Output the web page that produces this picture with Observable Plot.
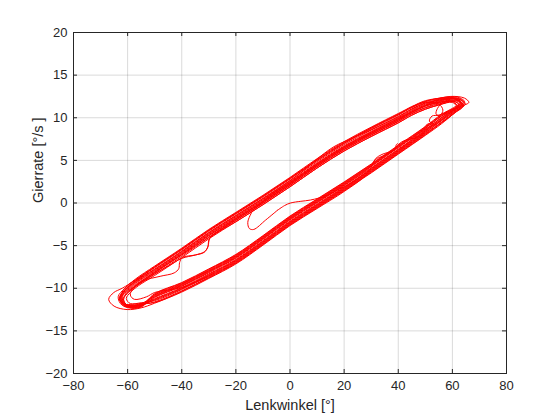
<!DOCTYPE html>
<html><head><meta charset="utf-8">
<script src="https://cdn.jsdelivr.net/npm/d3@7"></script>
<script src="https://cdn.jsdelivr.net/npm/@observablehq/plot@0.6"></script>
<style>body{margin:0;background:#fff}</style>
</head><body><div id="chart"></div>
<script>
// Tick values
const xTicks = [-80, -60, -40, -20, 0, 20, 40, 60, 80];
const yTicks = [-20, -15, -10, -5, 0, 5, 10, 15, 20];

// Trajectory: [Lenkwinkel °, Gierrate °/s], in order
const anfang = [[-4.7,-0.87],[-2,-0.3],[0.2,0.0],[4,0.2],[7.6,0.35],[13.8,0.9],[18,1.6],[22.4,2.3]];
const zyklus1 = [[30,4.05],[40,6.25],[50,8.45],[56,9.8],[61,10.9],[64.5,11.7],[62,12.2],[57,12.1],[50,11.5],[45,10.8],[40,9.9],[30,8.3],[20,6.6],[10,4.6],[0,2.4],[-10,0.3],[-20,-1.7],[-30,-3.7],[-40,-5.9],[-50,-8.0],[-57,-9.4],[-61,-10.4],[-63,-11.3],[-61,-12.0],[-56,-12.0]];
const zyklus2 = [[-50,-10.85],[-40,-9.55],[-30,-7.95],[-20,-6.25],[-10,-4.05],[0,-1.75],[10,0.25],[20,2.25],[30,4.35],[40,6.55],[50,8.75],[56,10.2],[61,11.2],[64.5,11.9],[62,12.4],[57,12.4],[50,11.9],[45,11.3],[40,10.4],[30,8.8],[20,7.0],[10,5.0],[0,2.9],[-10,0.8],[-20,-1.2],[-30,-3.2],[-40,-5.4],[-50,-7.5],[-56,-8.8],[-60,-9.7],[-62.5,-10.8],[-61.5,-11.8],[-56,-11.8]];
const zyklus3 = [[-50,-11.67],[-40,-10.37],[-30,-8.77],[-20,-7.07],[-10,-4.87],[0,-2.57],[10,-0.57],[20,1.43],[30,3.53],[40,5.73],[50,7.93],[56,9.3],[60.5,10.5],[63,11.3],[61,11.9],[56,11.8],[50,11.2],[45,10.5],[40,9.6],[30,8.0],[20,6.3],[10,4.3],[0,2.1],[-10,0.0],[-20,-2.0],[-26,-3.2],[-29.6,-4.1],[-30.3,-5.1],[-31.5,-5.7],[-35,-6.1],[-40,-6.5],[-45,-7.4],[-50,-8.3],[-57,-9.8],[-60.5,-10.7],[-62,-11.4],[-60,-12.1],[-55,-12.1]];
const zyklus4 = [[-50,-11.08],[-40,-9.78],[-30,-8.18],[-20,-6.48],[-10,-4.28],[0,-1.98],[10,0.02],[20,2.02],[30,4.12],[40,6.32],[50,8.52],[56,10.0],[61,11.0],[64,11.8],[61.5,12.3],[56,12.3],[50,11.9],[45,11.2],[40,10.4],[30,8.8],[20,7.1],[10,5.1],[0,2.9],[-10,0.8],[-20,-1.2],[-30,-3.2],[-40,-5.4],[-50,-7.5],[-57,-9.0],[-62,-10.0],[-65.1,-10.5],[-67,-11.3],[-65,-12.1],[-60.2,-12.5],[-55,-12.3]];
const zyklus5 = [[-50,-11.75],[-40,-10.45],[-30,-8.85],[-20,-7.15],[-10,-4.95],[0,-2.65],[10,-0.65],[20,1.35],[28,3.25],[30.3,4.4],[31.6,5.2],[34,5.7],[38.4,6.2],[40.2,6.9],[42.1,7.3],[45.8,7.6],[48.2,7.9],[49.8,8.4],[50,9.0],[51.3,9.3],[53,9.1],[55,9.5],[58.5,10.4],[61,11.0],[62.5,11.5],[60.5,11.9],[55,11.5],[50,11.0],[45,10.3],[40,9.4],[30,7.8],[20,6.1],[10,4.1],[0,1.9],[-10,-0.2],[-20,-2.2],[-26,-3.3],[-29.8,-4.2],[-30.4,-5.2],[-31.8,-5.8],[-35,-6.1],[-39.8,-6.4],[-40.8,-7.0],[-41.1,-7.7],[-42.8,-8.2],[-48,-8.6],[-54,-9.1],[-58,-9.9],[-61,-10.6],[-62.5,-11.3],[-60.5,-12.1],[-55,-12.2]];
const zyklus6 = [[-50,-10.7],[-40,-9.4],[-30,-7.8],[-20,-6.1],[-10,-3.9],[0,-1.6],[10,0.4],[20,2.4],[30,4.5],[40,6.7],[50,8.9],[56,10.3],[61,11.1],[64.5,11.5],[66.1,11.8],[64.5,12.3],[59.3,12.5],[54,12.1],[50,11.4],[45,10.6],[40,9.7],[30,8.1],[20,6.4],[10,4.4],[0,2.2],[-10,0.1],[-20,-1.9],[-30,-4.0],[-40,-6.1],[-50,-8.2],[-56,-9.5],[-59.5,-10.4],[-61.5,-11.3],[-60,-12.0],[-55,-11.9]];
const zyklus7 = [[-50,-11.37],[-40,-10.07],[-30,-8.47],[-20,-6.77],[-10,-4.57],[0,-2.27],[10,-0.27],[20,1.73],[30,3.83],[40,6.03],[50,8.23],[56,9.7],[61,10.8],[63.5,11.6],[61,12.2],[56,12.1],[50,11.7],[45,11.0],[40,10.1],[30,8.6],[23,7.6],[16.2,6.6],[9.4,5.0],[5,3.8],[0,2.6],[-10,0.5],[-20,-1.5],[-30,-3.5],[-40,-5.7],[-50,-7.8],[-57,-9.2],[-61,-10.2],[-63,-11.2],[-61,-12.1],[-56,-12.1]];
const zyklus8 = [[-50,-11.0],[-40,-9.7],[-30,-8.1],[-20,-6.4],[-10,-4.2],[0,-1.9],[10,0.1],[20,2.1],[29.5,4.2],[31.6,5.1],[35,5.6],[38.4,6.2],[39.6,6.95],[40.5,6.7],[41,6.4],[45,7.5],[50,8.6],[55,9.8],[59,10.7],[61.5,11.3],[60,11.8],[55,11.5],[50,11.0],[45,10.3],[40,9.4],[30,7.8],[20,6.1],[10,4.1],[0,1.9],[-10,-0.2],[-20,-2.2],[-30,-4.2],[-40,-6.4],[-50,-8.5],[-56,-9.7],[-59,-10.5],[-60.5,-11.2],[-59,-11.8],[-55,-11.7]];
const zyklus9 = [[-50,-11.45],[-40,-10.15],[-30,-8.55],[-20,-6.85],[-10,-4.65],[0,-2.35],[10,-0.35],[20,1.65],[30,3.75],[40,5.95],[50,8.15],[56,9.5],[61,10.7],[64,11.5],[61.5,12.2],[57,11.9],[54.5,11.1],[54,10.4],[55.5,10.3],[56.5,10.9],[55,11.6],[50,11.8],[45,11.2],[40,10.3],[30,8.7],[20,7.0],[10,5.0],[0,2.8],[-10,0.7],[-20,-1.3],[-30,-3.3],[-40,-5.5],[-50,-7.6],[-57,-9.1],[-61,-10.2],[-62.5,-11.1],[-60.5,-12.0],[-55,-12.0]];
const zyklus13 = [[-50,-11.3],[-40,-10.0],[-30,-8.4],[-20,-6.7],[-10,-4.5],[0,-2.2],[10,-0.2],[20,1.8],[30,3.9],[40,6.1],[50,8.3],[56,9.65],[61,10.8],[64.8,11.6],[62.5,12.25],[57,12.2],[50,11.6],[45,10.9],[40,10.0],[30,8.4],[20,6.7],[10,4.7],[0,2.5],[-10,0.4],[-20,-1.6],[-30,-3.6],[-40,-5.8],[-50,-7.9],[-57,-9.3],[-61,-10.3],[-62,-11.2],[-60.5,-11.9],[-55,-12.0]];
const zyklus14 = [[-50,-10.78],[-40,-9.48],[-30,-7.88],[-20,-6.18],[-10,-3.98],[0,-1.68],[10,0.32],[20,2.32],[30,4.42],[40,6.62],[50,8.82],[56,10.2],[61,11.0],[63.5,11.5],[61,12.0],[56,11.7],[50,11.15],[45,10.45],[40,9.55],[30,7.95],[20,6.25],[10,4.25],[0,2.05],[-10,-0.05],[-20,-2.05],[-30,-4.05],[-40,-6.25],[-50,-8.35],[-57,-9.75],[-60.5,-10.6],[-61.5,-11.4],[-60,-12.0],[-55,-11.9]];
const zyklus10 = [[-50,-11.22],[-40,-9.92],[-30,-8.32],[-20,-6.62],[-10,-4.42],[0,-2.12],[10,-0.12],[20,1.88],[30,3.98],[40,6.18],[50,8.38],[56,9.9],[60,10.8],[62,11.3],[60,11.9],[55,11.8],[50,11.4],[45,10.7],[40,9.8],[30,8.2],[20,6.5],[10,4.5],[0,2.3],[-10,0.2],[-20,-1.8],[-30,-3.8],[-40,-6.0],[-50,-8.1],[-55,-9.2],[-58,-10.0],[-59,-10.8],[-57.5,-11.3],[-53,-11.0]];
const zyklus11 = [[-50,-10.5],[-40,-9.9],[-30,-8.62],[-20,-6.92],[-10,-4.72],[0,-2.42],[10,-0.42],[20,1.58],[30,3.68],[40,5.88],[50,8.08],[56,9.4],[61,10.6],[64,11.4],[62,12.1],[57,12.3],[50,12.0],[45,11.3],[40,10.5],[30,8.9],[20,7.2],[10,5.2],[0,3.0],[-10,0.9],[-20,-1.1],[-30,-3.1],[-40,-5.3],[-50,-7.4],[-57,-8.9],[-61,-10.0],[-63.5,-11.0],[-62,-12.0],[-56,-12.3]];
const zyklus15 = [[-50,-10.63],[-40,-9.33],[-30,-7.73],[-20,-6.03],[-10,-3.83],[0,-1.53],[10,0.47],[20,2.47],[30,4.57],[40,6.77],[50,8.97],[56,10.4],[60.5,11.2],[63,11.8],[61,12.3],[56,12.2],[50,11.75],[45,11.05],[40,10.15],[30,8.55],[20,6.85],[10,4.85],[0,2.65],[-10,0.55],[-20,-1.45],[-30,-3.45],[-40,-5.65],[-50,-7.75],[-57,-9.15],[-61,-10.2],[-63,-11.1],[-61.5,-11.9],[-56,-11.9]];
const zyklus16 = [[-50,-11.6],[-40,-10.3],[-30,-8.7],[-20,-7.0],[-10,-4.8],[0,-2.5],[10,-0.5],[20,1.5],[30,3.6],[40,5.8],[50,8.0],[56,9.45],[61,10.6],[64,11.4],[62,12.0],[57,11.95],[50,11.35],[45,10.65],[40,9.75],[30,8.15],[20,6.45],[10,4.45],[0,2.25],[-10,0.15],[-20,-1.85],[-30,-3.85],[-40,-6.05],[-50,-8.15],[-57,-9.55],[-61,-10.5],[-62.8,-11.3],[-61,-12.1],[-56,-12.2]];
const zyklus12 = [[-50,-10.93],[-40,-9.63],[-30,-8.03],[-20,-6.33],[-10,-4.13],[0,-1.83],[10,0.17],[20,2.17],[30,4.27],[40,6.47],[50,8.67],[53,9.2],[51.5,9.6],[52.5,10.2],[55,10.3],[58,10.7],[61.5,11.2],[63,11.7],[60.5,12.2],[55,11.9],[50,11.4],[45,10.7],[40,9.9],[30,8.3],[20,6.6],[10,4.6],[0,2.4],[-5,1.4],[-8.5,0.6],[-10.9,-0.1],[-13.5,-0.8],[-14.8,-1.5],[-15.6,-2.3],[-15,-3.0],[-13.4,-3.1],[-9,-2.0],[-4.7,-0.87]];

const daten = [anfang, zyklus1, zyklus2, zyklus3, zyklus4, zyklus5, zyklus6, zyklus7, zyklus8, zyklus9,
               zyklus13, zyklus14, zyklus10, zyklus11, zyklus15, zyklus16, zyklus12]
  .flat().map(([lenkwinkel, gierrate]) => ({lenkwinkel, gierrate}));

const W = 560, H = 420, mT = 32, mB = 47, mL = 73, mR = 54;
const plotW = W - mL - mR, plotH = H - mT - mB;
const tickLen = 4;
const axisColor = "#262626";

const chart = Plot.plot({
  width: W, height: H,
  marginTop: mT, marginBottom: mB, marginLeft: mL, marginRight: mR,
  style: {fontFamily: "'Liberation Sans', Arial, Helvetica, sans-serif", fontSize: "13px", color: axisColor, background: "#fff"},
  x: {domain: [-80, 80]},
  y: {domain: [-20, 20]},
  marks: [
    Plot.gridX(xTicks, {stroke: "#000", strokeOpacity: 0.15}),
    Plot.gridY(yTicks, {stroke: "#000", strokeOpacity: 0.15}),
    Plot.line(daten, {x: "lenkwinkel", y: "gierrate", stroke: "#ff0000", strokeWidth: 1, curve: "catmull-rom"}),
    Plot.frame({stroke: axisColor}),
    Plot.tickX(xTicks, {x: d => d, stroke: axisColor, insetTop: plotH - tickLen}),
    Plot.tickX(xTicks, {x: d => d, stroke: axisColor, insetBottom: plotH - tickLen}),
    Plot.tickY(yTicks, {y: d => d, stroke: axisColor, insetRight: plotW - tickLen}),
    Plot.tickY(yTicks, {y: d => d, stroke: axisColor, insetLeft: plotW - tickLen}),
    Plot.axisX(xTicks, {tickSize: 0, tickPadding: 7, label: null, fontSize: 13}),
    Plot.axisY(yTicks, {tickSize: 0, tickPadding: 6, label: null, fontSize: 13}),
    Plot.text(["Lenkwinkel [°]"], {frameAnchor: "bottom", dy: 36, fontSize: 14.5, fill: axisColor}),
    Plot.text(["Gierrate [°/s ]"], {frameAnchor: "left", dx: -35, rotate: -90, fontSize: 14.5, fill: axisColor})
  ]
});
document.getElementById("chart").appendChild(chart);
</script>
</body></html>
